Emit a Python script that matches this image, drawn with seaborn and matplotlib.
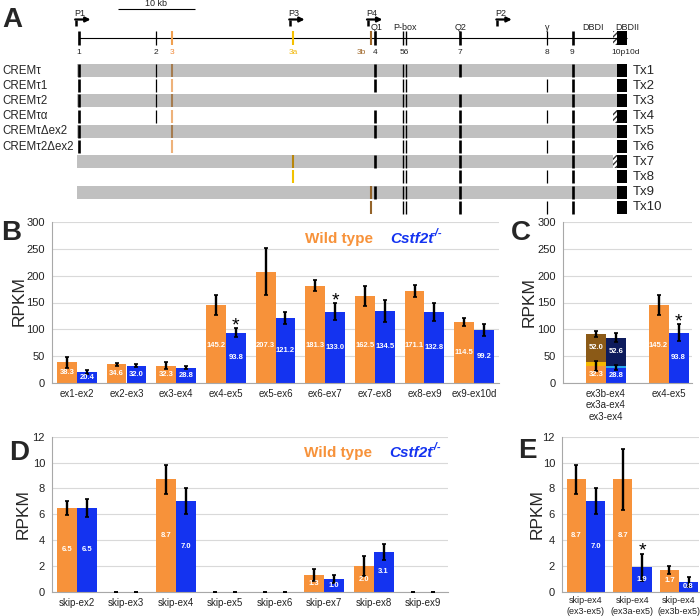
import numpy as np
import pandas as pd
import seaborn as sns
import matplotlib.pyplot as plt
from matplotlib.patches import Rectangle

# ---------------- data ----------------
# panel A: exon positions (kb from exon 1)
exon_names = ['1', '2', '3', '3a', '3b', '4', '5', '6', '7', '8', '9']
exon_kb = [0.0, 10.0, 12.1, 27.8, 37.9, 38.4, 42.1, 42.5, 49.5, 60.8, 64.2]
exon_10p = (69.4, 69.9)
exon_10d = (69.9, 71.2)
gene_labels = ['1', '2', '3', '3a', '3b', '4', '56', '7', '8', '9', '10p10d']
gene_label_kb = [0.0, 10.0, 12.1, 27.8, 36.7, 38.5, 42.3, 49.5, 60.8, 64.0, 71.0]
feature_labels = ['Q1', 'P-box', 'Q2', 'γ', 'DBDI', 'DBDII']
feature_kb = [38.7, 42.3, 49.6, 60.8, 66.8, 71.2]
promoters = ['P1', 'P3', 'P4', 'P2']
promoter_kb = [-0.4, 27.4, 37.5, 54.3]
tx_names = ['Tx1', 'Tx2', 'Tx3', 'Tx4', 'Tx5', 'Tx6', 'Tx7', 'Tx8', 'Tx9', 'Tx10']
tx_crem = ['CREMτ', 'CREMτ1', 'CREMτ2', 'CREMτα', 'CREMτΔex2', 'CREMτ2Δex2', '', '', '', '']
tx_exons = [
    ['1', '2', '3', '4', '5', '6', '7', '9'],
    ['1', '2', '3', '4', '5', '6', '8', '9'],
    ['1', '2', '3', '5', '6', '7', '9'],
    ['1', '2', '3', '4', '5', '6', '7', '8', '9'],
    ['1', '3', '4', '5', '6', '7', '9'],
    ['1', '3', '5', '6', '7', '8', '9'],
    ['3a', '4', '5', '6', '7', '9'],
    ['3a', '5', '6', '7', '8', '9'],
    ['3b', '4', '5', '6', '7', '9'],
    ['3b', '5', '6', '7', '8', '9'],
]
tx_has_10p = [False, False, False, True, False, False, True, False, False, False]

# panel B
b_junctions = ['ex1-ex2', 'ex2-ex3', 'ex3-ex4', 'ex4-ex5', 'ex5-ex6', 'ex6-ex7', 'ex7-ex8', 'ex8-ex9', 'ex9-ex10d']
b_wt = [38.3, 34.6, 32.3, 145.2, 207.3, 181.3, 162.5, 171.1, 114.5]
b_ko = [20.4, 32.0, 28.8, 93.8, 121.2, 133.0, 134.5, 132.8, 99.2]
b_wt_err = [10.0, 3.0, 6.0, 19.0, 44.0, 10.5, 19.0, 11.0, 7.5]
b_ko_err = [3.5, 2.5, 3.5, 8.5, 11.0, 15.5, 20.0, 17.0, 11.5]
b_star = ['ex4-ex5', 'ex6-ex7']

# panel C
c_junctions = ['ex3b-ex4\nex3a-ex4\nex3-ex4', 'ex4-ex5']
c_ex3_wt = [32.3, 145.2]
c_ex3_ko = [28.8, 93.8]
c_ex3a_wt = [7.4, 0.0]
c_ex3a_ko = [3.0, 0.0]
c_ex3b_wt = [52.0, 0.0]
c_ex3b_ko = [52.6, 0.0]
c_base_err_wt = [9.5, 19.0]
c_base_err_ko = [5.5, 16.0]
c_top_err_wt = [6.0, 0.0]
c_top_err_ko = [8.0, 0.0]
c_star = ['ex4-ex5']

# panel D
d_junctions = ['skip-ex2', 'skip-ex3', 'skip-ex4', 'skip-ex5', 'skip-ex6', 'skip-ex7', 'skip-ex8', 'skip-ex9']
d_wt = [6.5, 0.0, 8.7, 0.0, 0.0, 1.3, 2.0, 0.0]
d_ko = [6.5, 0.0, 7.0, 0.0, 0.0, 1.0, 3.1, 0.0]
d_wt_err = [0.55, 0.0, 1.15, 0.0, 0.0, 0.45, 0.75, 0.0]
d_ko_err = [0.7, 0.0, 1.0, 0.0, 0.0, 0.32, 0.6, 0.0]

# panel E
e_junctions = ['skip-ex4\n(ex3-ex5)', 'skip-ex4\n(ex3a-ex5)', 'skip-ex4\n(ex3b-ex5)']
e_wt = [8.7, 8.7, 1.7]
e_ko = [7.0, 1.9, 0.8]
e_wt_err = [1.15, 2.35, 0.33]
e_ko_err = [1.0, 1.05, 0.38]
e_star = ['skip-ex4\n(ex3a-ex5)']

# ---------------- style ----------------
ORANGE = '#F7923A'
BLUE = '#1433F0'
BROWN = '#8B5A17'
GOLD = '#F5B800'
NAVY = '#0D1B5C'
LIGHTBLUE = '#27A9F0'
GENOS = ['Wild type', 'Cstf2t-/-']

sns.set_style('white')
plt.rcParams['font.family'] = ['Liberation Sans', 'DejaVu Sans']

W, H = 700, 616
fig = plt.figure(figsize=(7, 6.16), dpi=100)


def fx(x):
    return x / W


def fy(y):
    return 1 - y / H


# ---------------- panel A ----------------
KB = 7.7      # px per kb
ROW = 15.2    # px per row
ax_a = fig.add_axes([0, fy(216), 1, 216 / H])
ax_a.set_xlim(-79 / KB, 621 / KB)
ax_a.set_ylim((216 - 70.5) / ROW, -70.5 / ROW)
ax_a.axis('off')

gene_y = (38 - 70.5) / ROW
half = 0.43
ex_pos = dict(zip(exon_names, exon_kb))
ex_lw = {'1': 1.9, '2': 0.9, '3': 1.5, '3a': 1.5, '3b': 1.5, '4': 1.9, '5': 1.0, '6': 1.0,
         '7': 1.9, '8': 0.9, '9': 1.9}
col_white = {'3': '#EEB27A', '3a': '#F2C200', '3b': '#94642A'}
col_gray = {'3': '#A57C50', '3a': '#B8860B', '3b': '#94642A'}
gene_col = {'3': '#F0A050', '3a': '#F5C000', '3b': '#A0682A'}


def draw_dbd(y, with_10p):
    if with_10p:
        ax_a.add_patch(Rectangle((exon_10p[0], y - half), exon_10p[1] - exon_10p[0], 2 * half,
                                 facecolor='white', edgecolor='#333333', hatch='//////', lw=0))
    ax_a.add_patch(Rectangle((exon_10d[0], y - half), exon_10d[1] - exon_10d[0], 2 * half,
                             facecolor='black', edgecolor='none'))


# gene line
ax_a.hlines(gene_y, exon_kb[0], exon_10d[1], color='black', lw=0.8)
for n, p in zip(exon_names, exon_kb):
    ax_a.vlines(p, gene_y - half, gene_y + half, color=gene_col.get(n, 'black'), lw=ex_lw[n])
draw_dbd(gene_y, True)
lab_col = {'3': '#F08A3A', '3a': '#F2B705', '3b': '#A0682A'}
for t, p in zip(gene_labels, gene_label_kb):
    ax_a.text(p, (52 - 70.5) / ROW, t, ha='center', va='center', fontsize=6, color=lab_col.get(t, '#222222'))
for t, p in zip(feature_labels, feature_kb):
    ax_a.text(p, (27 - 70.5) / ROW, t, ha='center', va='center', fontsize=6.5, color='#222222')
for t, p in zip(promoters, promoter_kb):
    y_lo, y_hi = (26 - 70.5) / ROW, (19.5 - 70.5) / ROW
    ax_a.vlines(p, y_hi, y_lo, color='black', lw=1.8)
    ax_a.annotate('', xy=(p + 1.9, y_hi), xytext=(p - 0.1, y_hi),
                  arrowprops=dict(arrowstyle='-|>', lw=1.6, color='black', mutation_scale=7,
                                  shrinkA=0, shrinkB=0))
    ax_a.text(p - 0.2, (13 - 70.5) / ROW, t, ha='left', va='center', fontsize=6.5, color='#222222')
# scale bar 10 kb
ax_a.hlines((9 - 70.5) / ROW, 5.0, 15.0, color='black', lw=0.8)
ax_a.text(10.0, (8 - 70.5) / ROW, '10 kb', ha='center', va='bottom', fontsize=6.5, color='#222222')

# transcripts
for i, (tx, crem, exs, h10p) in enumerate(zip(tx_names, tx_crem, tx_exons, tx_has_10p)):
    gray = i % 2 == 0
    if gray:
        ax_a.add_patch(Rectangle((-0.26, i - half), exon_10p[1] + 0.26, 2 * half,
                                 facecolor='#C0C0C0', edgecolor='none'))
    for n in exs:
        c = (col_gray if gray else col_white).get(n, 'black')
        ax_a.vlines(ex_pos[n], i - half, i + half, color=c, lw=ex_lw[n])
    draw_dbd(i, h10p)
    ax_a.text(71.9, i, tx, ha='left', va='center', fontsize=9.5)
    if crem:
        ax_a.text(-10.0, i, crem, ha='left', va='center', fontsize=8.3)


# ---------------- bar panels ----------------
def make_df(cats, wt, ko):
    return pd.DataFrame({'junction': cats * 2,
                         'genotype': [GENOS[0]] * len(cats) + [GENOS[1]] * len(cats),
                         'rpkm': list(wt) + list(ko)})


def style_axis(ax, ymax, ystep, n, xlim=None):
    ax.set_ylim(0, ymax)
    ax.set_yticks(np.arange(0, ymax + 0.1, ystep))
    if xlim is None:
        xlim = (-0.5, n - 0.5)
    ax.set_xlim(*xlim)
    ax.grid(axis='y', color='#D9D9D9', lw=0.8)
    ax.set_axisbelow(True)
    for s in ['top', 'right']:
        ax.spines[s].set_visible(False)
    for s in ['left', 'bottom']:
        ax.spines[s].set_color('#A8A8A8')
        ax.spines[s].set_linewidth(0.8)
    ax.tick_params(axis='y', length=3, color='#A8A8A8', labelsize=8, pad=2, labelcolor='#222222')
    ax.tick_params(axis='x', which='major', length=0, labelsize=7, pad=4, labelcolor='#222222')
    ax.set_xticks(np.arange(n - 1) + 0.5, minor=True)
    ax.tick_params(axis='x', which='minor', length=3, color='#A8A8A8')
    ax.set_xlabel('')
    ax.set_ylabel('')


def add_errors(ax, containers, errs):
    for cont, err in zip(containers, errs):
        xs = [r.get_x() + r.get_width() / 2 for r in cont]
        hs = [r.get_height() for r in cont]
        ax.errorbar(xs, hs, yerr=err, fmt='none', ecolor='black', elinewidth=1.7,
                    capsize=1.5, capthick=1.2, zorder=4)


def add_values(ax, containers, cap):
    for cont in containers:
        for r in cont:
            h = r.get_height()
            if h <= 0:
                continue
            y = min(h / 2, cap) if cap else h / 2
            ax.text(r.get_x() + r.get_width() / 2, y, f'{h:.1f}', ha='center', va='center',
                    fontsize=5.5, fontweight='bold', color='white', zorder=5)


def add_stars(ax, cats, starred, ko, ko_err, cont):
    for k, c in enumerate(cats):
        if c in starred:
            r = cont[k]
            ax.annotate('*', (r.get_x() + r.get_width() / 2, ko[k] + ko_err[k]),
                        xytext=(0, -1.5), textcoords='offset points', ha='center', va='baseline',
                        fontsize=14, color='black')


def legend_text(x, y):
    fig.text(fx(x), fy(y), 'Wild type', color=ORANGE, fontsize=11, fontweight='bold', va='center')
    fig.text(fx(x + 85), fy(y), 'Cstf2t', color=BLUE, fontsize=11, fontweight='bold',
             fontstyle='italic', va='center')
    fig.text(fx(x + 127), fy(y - 6), '-/-', color=BLUE, fontsize=8, fontweight='bold',
             fontstyle='italic', va='center')


pal = {GENOS[0]: ORANGE, GENOS[1]: BLUE}

# B
ax_b = fig.add_axes([fx(52), fy(383), (499 - 52) / W, (383 - 222) / H])
sns.barplot(data=make_df(b_junctions, b_wt, b_ko), x='junction', y='rpkm', hue='genotype',
            hue_order=GENOS, palette=pal, errorbar=None, width=0.8, linewidth=0,
            saturation=1, legend=False, ax=ax_b, zorder=2)
style_axis(ax_b, 300, 50, len(b_junctions))
add_errors(ax_b, ax_b.containers[:2], [b_wt_err, b_ko_err])
add_values(ax_b, ax_b.containers[:2], 70)
add_stars(ax_b, b_junctions, b_star, b_ko, b_ko_err, ax_b.containers[1])
legend_text(305, 239)

# C (stacked by overlaying cumulative heights)
ax_c = fig.add_axes([fx(563), fy(383), (692 - 563) / W, (383 - 222) / H])
top_wt = [a + b + c if c > 0 else 0 for a, b, c in zip(c_ex3_wt, c_ex3a_wt, c_ex3b_wt)]
top_ko = [a + b + c if c > 0 else 0 for a, b, c in zip(c_ex3_ko, c_ex3a_ko, c_ex3b_ko)]
mid_wt = [a + b if b > 0 else 0 for a, b in zip(c_ex3_wt, c_ex3a_wt)]
mid_ko = [a + b if b > 0 else 0 for a, b in zip(c_ex3_ko, c_ex3a_ko)]
layers = [(top_wt, top_ko, BROWN, NAVY), (mid_wt, mid_ko, GOLD, LIGHTBLUE),
          (c_ex3_wt, c_ex3_ko, ORANGE, BLUE)]
for lw_, lk_, cw, ck in layers:
    sns.barplot(data=make_df(c_junctions, lw_, lk_), x='junction', y='rpkm', hue='genotype',
                hue_order=GENOS, palette={GENOS[0]: cw, GENOS[1]: ck}, errorbar=None,
                width=0.64, linewidth=0, saturation=1, legend=False, ax=ax_c, zorder=2)
style_axis(ax_c, 300, 50, len(c_junctions), xlim=(-0.688, 1.376))
ax_c.tick_params(axis='x', which='minor', length=0)
base_cont = ax_c.containers[-2:]
top_cont = ax_c.containers[:2]
add_errors(ax_c, base_cont, [c_base_err_wt, c_base_err_ko])
add_values(ax_c, base_cont, 70)
for cont, err, seg in zip(top_cont, [c_top_err_wt, c_top_err_ko], [c_ex3b_wt, c_ex3b_ko]):
    for k, r in enumerate(cont):
        h = r.get_height()
        if h > 0:
            xm = r.get_x() + r.get_width() / 2
            ax_c.errorbar([xm], [h], yerr=[err[k]], fmt='none', ecolor='black', elinewidth=1.7,
                          capsize=1.5, capthick=1.2, zorder=4)
            ax_c.text(xm, h - seg[k] / 2, f'{seg[k]:.1f}', ha='center', va='center',
                      fontsize=5.5, fontweight='bold', color='white', zorder=5)
add_stars(ax_c, c_junctions, c_star, c_ex3_ko, c_base_err_ko, base_cont[1])

# D
ax_d = fig.add_axes([fx(52), fy(592), (448 - 52) / W, (592 - 436.7) / H])
sns.barplot(data=make_df(d_junctions, d_wt, d_ko), x='junction', y='rpkm', hue='genotype',
            hue_order=GENOS, palette=pal, errorbar=None, width=0.8, linewidth=0,
            saturation=1, legend=False, ax=ax_d, zorder=2)
style_axis(ax_d, 12, 2, len(d_junctions))
add_errors(ax_d, ax_d.containers[:2], [d_wt_err, d_ko_err])
add_values(ax_d, ax_d.containers[:2], None)
legend_text(304, 453)

# E
ax_e = fig.add_axes([fx(562), fy(592), (699 - 562) / W, (592 - 436.7) / H])
sns.barplot(data=make_df(e_junctions, e_wt, e_ko), x='junction', y='rpkm', hue='genotype',
            hue_order=GENOS, palette=pal, errorbar=None, width=0.82, linewidth=0,
            saturation=1, legend=False, ax=ax_e, zorder=2)
style_axis(ax_e, 12, 2, len(e_junctions), xlim=(-0.516, 2.43))
ax_e.tick_params(axis='x', which='major', labelsize=6.5, pad=3)
add_errors(ax_e, ax_e.containers[:2], [e_wt_err, e_ko_err])
add_values(ax_e, ax_e.containers[:2], None)
add_stars(ax_e, e_junctions, e_star, e_ko, e_ko_err, ax_e.containers[1])

# RPKM labels and panel letters
for x, y in [(19, 301), (529, 302), (23, 514), (537, 514)]:
    fig.text(fx(x), fy(y), 'RPKM', rotation=90, ha='center', va='center', fontsize=12.5)
for t, x, y in [('A', 12, 20), ('B', 11, 233), ('C', 521, 233), ('D', 19, 453), ('E', 527, 451)]:
    fig.text(fx(x), fy(y), t, ha='center', va='center', fontsize=20, fontweight='bold')

fig.savefig('out.png', dpi=100)
